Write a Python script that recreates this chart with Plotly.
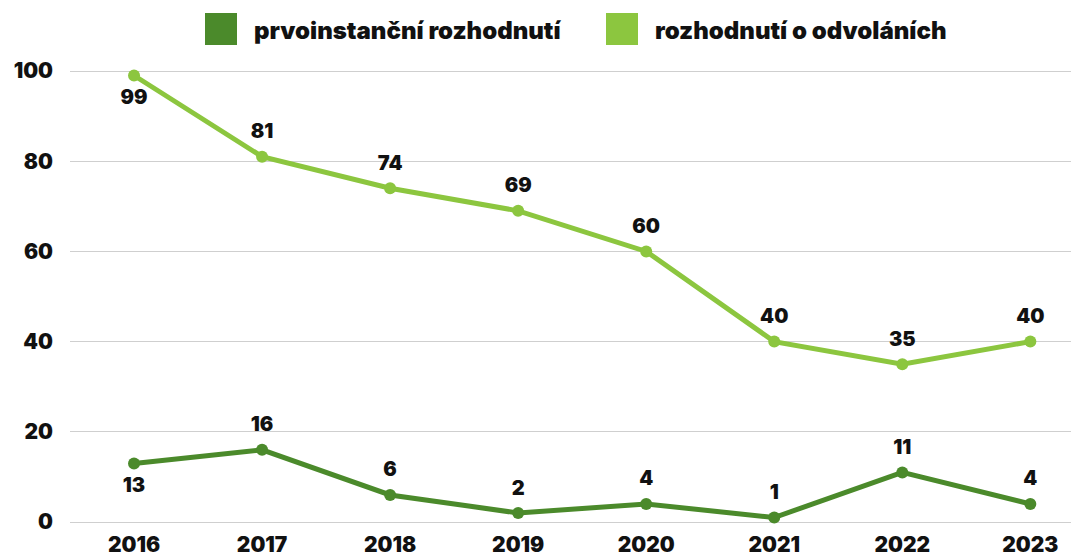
import plotly.graph_objects as go

years = [2016, 2017, 2018, 2019, 2020, 2021, 2022, 2023]
prvo = [13, 16, 6, 2, 4, 1, 11, 4]
odvol = [99, 81, 74, 69, 60, 40, 35, 40]
names = ["prvoinstanční rozhodnutí", "rozhodnutí o odvoláních"]
colors = ["#4b8a2b", "#8cc63f"]
prvo_pos = ["bottom center"] + ["top center"] * 7
odvol_pos = ["bottom center"] + ["top center"] * 7

FONT = "Inter"
fig = go.Figure()
for vals, pos, name, col in [(prvo, prvo_pos, names[0], colors[0]), (odvol, odvol_pos, names[1], colors[1])]:
    fig.add_trace(go.Scatter(
        x=years, y=vals, mode="lines+markers", name=name,
        line=dict(color=col, width=5), marker=dict(color=col, size=12),
        showlegend=False, cliponaxis=False))
    fig.add_trace(go.Scatter(
        x=years, y=vals, mode="markers+text", name=name,
        text=[str(v) for v in vals], textposition=pos,
        textfont=dict(family=FONT, size=20, color="#111111", weight=900),
        marker=dict(color=col, size=20, opacity=0),
        showlegend=False, cliponaxis=False, hoverinfo="skip"))

# Legend drawn as squares + labels above the plot (paper coordinates)
L, W, T, H = 62, 1009, 52, 470
def px(fx):
    return (fx - L) / W
def py(fy):
    return (T + H - fy) / H
legend_sq_x = [197, 598]
for i, (name, col) in enumerate(zip(names, colors)):
    x0 = legend_sq_x[i]
    fig.add_shape(type="rect", xref="paper", yref="paper",
                  x0=px(x0), x1=px(x0 + 32), y0=py(37), y1=py(5),
                  fillcolor=col, line=dict(width=0))
    fig.add_annotation(xref="paper", yref="paper", x=px(x0 + 47), y=py(22),
                       xanchor="left", yanchor="middle", showarrow=False, text=name,
                       font=dict(family=FONT, size=24, color="#111111", weight=900))

fig.update_layout(
    width=1079, height=560,
    margin=dict(l=L, r=1079 - L - W, t=T, b=560 - T - H, autoexpand=False),
    paper_bgcolor="white", plot_bgcolor="white",
    font=dict(family=FONT, size=20, color="#111111", weight=900),
    showlegend=False,
    xaxis=dict(range=[2015.5, 2023.38], tickvals=years, showgrid=False, zeroline=False,
               showline=False, ticks="", tickfont=dict(size=21, weight=900)),
    yaxis=dict(range=[-1.77, 102.44], tickvals=[0, 20, 40, 60, 80, 100], showgrid=True,
               gridcolor="#cfcfcf", gridwidth=1, zeroline=False, showline=False, ticks="",
               ticklabelstandoff=16, tickfont=dict(size=21, weight=900)),
)
fig.write_html("out.html")
